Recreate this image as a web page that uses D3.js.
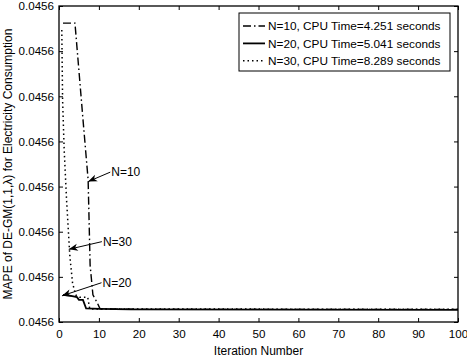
<!DOCTYPE html>
<html>
<head>
<meta charset="utf-8">
<script src="https://cdn.jsdelivr.net/npm/d3@7"></script>
<style>
  body { margin: 0; background: #fff; }
  svg { display: block; font-family: Arial, "Liberation Sans", sans-serif; }
</style>
</head>
<body>
<script>
// series: [iteration, MAPE]
var n10 = [[1, 0.04560662], [4, 0.04560662], [6, 0.04560450], [7.3, 0.04560315],
           [7.8, 0.04560126], [8.5, 0.04560060], [9.5, 0.04560044], [10.3, 0.04560029],
           [20, 0.04560028], [100, 0.04560028]];
var n20 = [[1, 0.04560060], [3, 0.04560058], [4.5, 0.04560055], [5, 0.04560049],
           [6, 0.04560049], [6.8, 0.04560030], [10.3, 0.04560029], [18, 0.04560028],
           [100, 0.04560027]];
var n30 = [[0.7, 0.04560647], [0.9, 0.04560492], [1.3, 0.04560381], [1.9, 0.04560270],
           [2.7, 0.04560148], [3.4, 0.04560086], [4.2, 0.04560060], [5.2, 0.04560055],
           [7.2, 0.04560055], [7.7, 0.04560029], [100, 0.04560028]];

var legendLabels = ["N=10, CPU Time=4.251 seconds",
                    "N=20, CPU Time=5.041 seconds",
                    "N=30, CPU Time=8.289 seconds"];

var xTicks = [0, 10, 20, 30, 40, 50, 60, 70, 80, 90, 100];
var yTicks = [0.045600, 0.045601, 0.045602, 0.045603, 0.045604, 0.045605, 0.045606, 0.045607];

// annotations: label, text anchor point, arrow tip (data units)
var notes = [
  {label: "N=10", at: [13.1, 0.04560332], tip: [7.3, 0.04560311]},
  {label: "N=30", at: [11.0, 0.04560178], tip: [2.45, 0.04560161]},
  {label: "N=20", at: [10.9, 0.04560087], tip: [0.75, 0.04560058]}
];

var margin = {top: 6, right: 9, bottom: 38, left: 59},
    width = 467 - margin.left - margin.right,
    height = 360 - margin.top - margin.bottom;

var x = d3.scaleLinear().domain([0, 100]).range([0, width]);
var y = d3.scaleLinear().domain([0.0456, 0.045607]).range([height, 0]);

var svg = d3.select("body").append("svg")
    .attr("width", 467)
    .attr("height", 360);

var defs = svg.append("defs");
defs.append("marker")
    .attr("id", "head")
    .attr("viewBox", "-10 -5 11 10")
    .attr("markerUnits", "userSpaceOnUse")
    .attr("markerWidth", 11)
    .attr("markerHeight", 10)
    .attr("refX", 0)
    .attr("refY", 0)
    .attr("orient", "auto")
  .append("path")
    .attr("d", "M0,0L-9,-3.6L-6.5,0L-9,3.6Z")
    .attr("fill", "#000");

var g = svg.append("g")
    .attr("transform", "translate(" + margin.left + "," + margin.top + ")");

var line = d3.line()
    .x(function(d) { return x(d[0]); })
    .y(function(d) { return y(d[1]); });

var styles = [
  {data: n10, dash: "8,3,1.5,3", w: 1.4},
  {data: n20, dash: null, w: 1.8},
  {data: n30, dash: "1.5,3", w: 1.5}
];

styles.forEach(function(s) {
  g.append("path")
      .attr("d", line(s.data))
      .attr("fill", "none")
      .attr("stroke", "#000")
      .attr("stroke-width", s.w)
      .attr("stroke-dasharray", s.dash);
});

// axes, matlab style box with inward ticks
var fmt = d3.format(".4f");
function styleAxis(sel) {
  sel.select(".domain").remove();
  sel.selectAll(".tick line").attr("stroke", "#000");
  sel.selectAll(".tick text").attr("fill", "#000").style("font-size", "11.6px");
}

g.append("g")
    .attr("transform", "translate(0," + height + ")")
    .call(d3.axisBottom(x).tickValues(xTicks).tickSizeInner(-4).tickSizeOuter(0).tickPadding(8))
    .call(styleAxis);
g.append("g")
    .call(d3.axisTop(x).tickValues(xTicks).tickSizeInner(-4).tickSizeOuter(0).tickFormat(""))
    .call(styleAxis);
g.append("g")
    .call(d3.axisLeft(y).tickValues(yTicks).tickSizeInner(-4).tickSizeOuter(0).tickPadding(5).tickFormat(fmt))
    .call(styleAxis);
g.append("g")
    .attr("transform", "translate(" + width + ",0)")
    .call(d3.axisRight(y).tickValues(yTicks).tickSizeInner(-4).tickSizeOuter(0).tickFormat(""))
    .call(styleAxis);

g.append("rect")
    .attr("width", width)
    .attr("height", height)
    .attr("fill", "none")
    .attr("stroke", "#000")
    .attr("stroke-width", 1.3);

// annotations
notes.forEach(function(n) {
  g.append("line")
      .attr("x1", x(n.at[0]) - 1)
      .attr("y1", y(n.at[1]))
      .attr("x2", x(n.tip[0]))
      .attr("y2", y(n.tip[1]))
      .attr("stroke", "#000")
      .attr("stroke-width", 1)
      .attr("marker-end", "url(#head)");
  g.append("text")
      .attr("x", x(n.at[0]))
      .attr("y", y(n.at[1]))
      .attr("dy", "0.35em")
      .style("font-size", "12px")
      .text(n.label);
});

// legend
var lg = g.append("g").attr("transform", "translate(180,7)");
lg.append("rect")
    .attr("width", 211)
    .attr("height", 58)
    .attr("fill", "#fff")
    .attr("stroke", "#000")
    .attr("stroke-width", 1);
legendLabels.forEach(function(t, i) {
  var yy = 13 + i * 17.4;
  lg.append("line")
      .attr("x1", 4).attr("x2", 26)
      .attr("y1", yy).attr("y2", yy)
      .attr("stroke", "#000")
      .attr("stroke-width", styles[i].w)
      .attr("stroke-dasharray", styles[i].dash);
  lg.append("text")
      .attr("x", 29)
      .attr("y", yy)
      .attr("dy", "0.35em")
      .style("font-size", "11.8px")
      .text(t);
});

// axis titles
svg.append("text")
    .attr("x", margin.left + width / 2)
    .attr("y", 351)
    .attr("dy", "0.35em")
    .attr("text-anchor", "middle")
    .style("font-size", "12px")
    .text("Iteration Number");

svg.append("text")
    .attr("transform", "translate(7.5," + (margin.top + height / 2) + ") rotate(-90)")
    .attr("dy", "0.35em")
    .attr("text-anchor", "middle")
    .style("font-size", "12px")
    .text("MAPE of DE-GM(1,1,λ) for Electricity Consumption");
</script>
</body>
</html>
